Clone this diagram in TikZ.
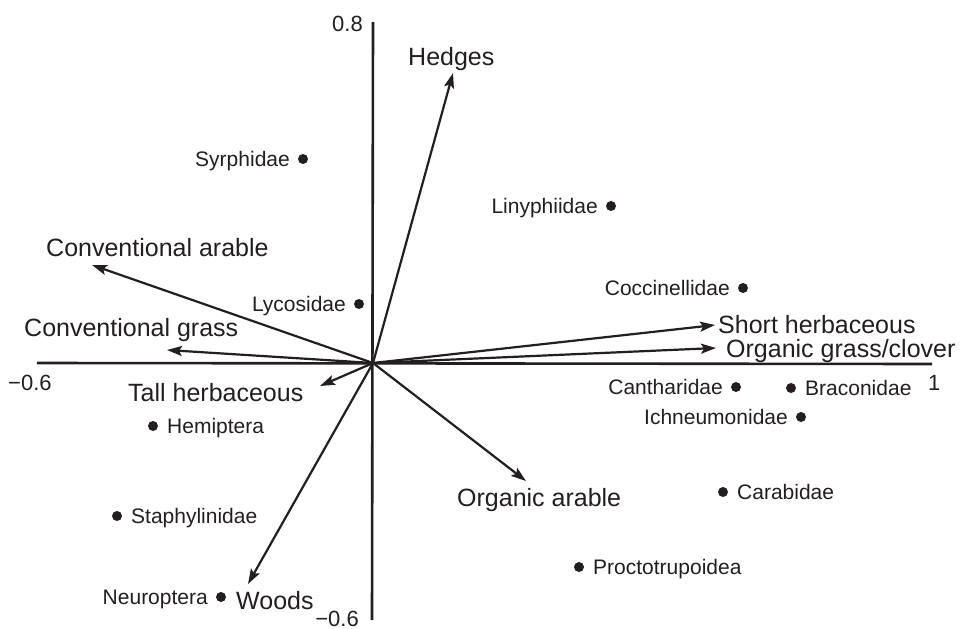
\documentclass[tikz,border=0pt]{standalone}
\usepackage{fontspec}
\setmainfont{Liberation Sans}
\usetikzlibrary{arrows.meta}
\definecolor{ink}{HTML}{231F20}
\begin{document}
\begin{tikzpicture}[x=1pt,y=-1pt,
  axisline/.style={draw=ink,line width=2.6pt},
  vec/.style={draw=ink,line width=2.2pt,-{Stealth[length=15pt,width=10pt,inset=3pt]}},
  biglab/.style={text=ink,inner sep=0pt,font=\fontsize{25}{30}\selectfont},
  smalllab/.style={text=ink,inner sep=0pt,font=\fontsize{21}{25}\selectfont},
  ticklab/.style={text=ink,inner sep=0pt,font=\fontsize{22}{26}\selectfont},
  sdot/.style={circle,fill=ink,inner sep=0pt,minimum size=10pt}]
\useasboundingbox[fill=white] (0,0) rectangle (961,629);
% axes
\coordinate (O) at (373,363);
\coordinate (xl) at (37,363);
\coordinate (xr) at (932,364);
\coordinate (yt) at (373,22);
\coordinate (yb) at (372,620);
\draw[axisline] (xl) -- (xr);
\draw[axisline] (yt) -- (yb);
\node[ticklab,anchor=base east] (t08) at (363,31) {0.8};
\node[ticklab,anchor=base west] (tm06x) at (8,390) {−0.6};
\node[ticklab,anchor=base west] (t1) at (928,390) {1};
\node[ticklab,anchor=base east] (tm06y) at (359,626) {−0.6};
% vector tips
\coordinate (hedges) at (453,73);
\coordinate (carable) at (92,265);
\coordinate (cgrass) at (167,350);
\coordinate (tallh) at (320,386);
\coordinate (shorth) at (715,325);
\coordinate (ogc) at (716,348);
\coordinate (oarable) at (526,481);
\coordinate (woods) at (248,584);
\foreach \t in {hedges,carable,cgrass,tallh,shorth,ogc,oarable,woods}
  \draw[vec] (O) -- (\t);
% vector labels
\node[biglab,anchor=base west] (lhedges) at (408,65) {Hedges};
\node[biglab,anchor=base west] (lcarable) at (46,256) {Conventional arable};
\node[biglab,anchor=base west] (lcgrass) at (24,336) {Conventional grass};
\node[biglab,anchor=base west] (ltallh) at (128,401) {Tall herbaceous};
\node[biglab,anchor=base west] (lshorth) at (718,333) {Short herbaceous};
\node[biglab,anchor=base west] (logc) at (726,357) {Organic grass/clover};
\node[biglab,anchor=base west] (loarable) at (457,506) {Organic arable};
\node[biglab,anchor=base west] (lwoods) at (236,609) {Woods};
% taxa
\node[sdot] (syr) at (303,159) {};
\node[sdot] (lin) at (611,206) {};
\node[sdot] (coc) at (743,288) {};
\node[sdot] (lyc) at (359,304) {};
\node[sdot] (can) at (736,387) {};
\node[sdot] (bra) at (791,388) {};
\node[sdot] (ich) at (801,417) {};
\node[sdot] (hem) at (153,426) {};
\node[sdot] (car) at (723,492) {};
\node[sdot] (sta) at (117,516) {};
\node[sdot] (pro) at (579,567) {};
\node[sdot] (neu) at (221,597) {};
\node[smalllab,anchor=base east] (lsyr) at ([xshift=-13pt,yshift=-7.5pt]syr.center) {Syrphidae};
\node[smalllab,anchor=base east] (llin) at ([xshift=-13pt,yshift=-7.5pt]lin.center) {Linyphiidae};
\node[smalllab,anchor=base east] (lcoc) at ([xshift=-13pt,yshift=-7.5pt]coc.center) {Coccinellidae};
\node[smalllab,anchor=base east] (llyc) at ([xshift=-13pt,yshift=-7.5pt]lyc.center) {Lycosidae};
\node[smalllab,anchor=base east] (lcan) at ([xshift=-13pt,yshift=-7.5pt]can.center) {Cantharidae};
\node[smalllab,anchor=base west] (lbra) at ([xshift=14pt,yshift=-7.5pt]bra.center) {Braconidae};
\node[smalllab,anchor=base east] (lich) at ([xshift=-13pt,yshift=-7.5pt]ich.center) {Ichneumonidae};
\node[smalllab,anchor=base west] (lhem) at ([xshift=14pt,yshift=-7.5pt]hem.center) {Hemiptera};
\node[smalllab,anchor=base west] (lcar) at ([xshift=14pt,yshift=-7.5pt]car.center) {Carabidae};
\node[smalllab,anchor=base west] (lsta) at ([xshift=14pt,yshift=-7.5pt]sta.center) {Staphylinidae};
\node[smalllab,anchor=base west] (lpro) at ([xshift=14pt,yshift=-7.5pt]pro.center) {Proctotrupoidea};
\node[smalllab,anchor=base east] (lneu) at ([xshift=-13pt,yshift=-7.5pt]neu.center) {Neuroptera};
\end{tikzpicture}
\end{document}
